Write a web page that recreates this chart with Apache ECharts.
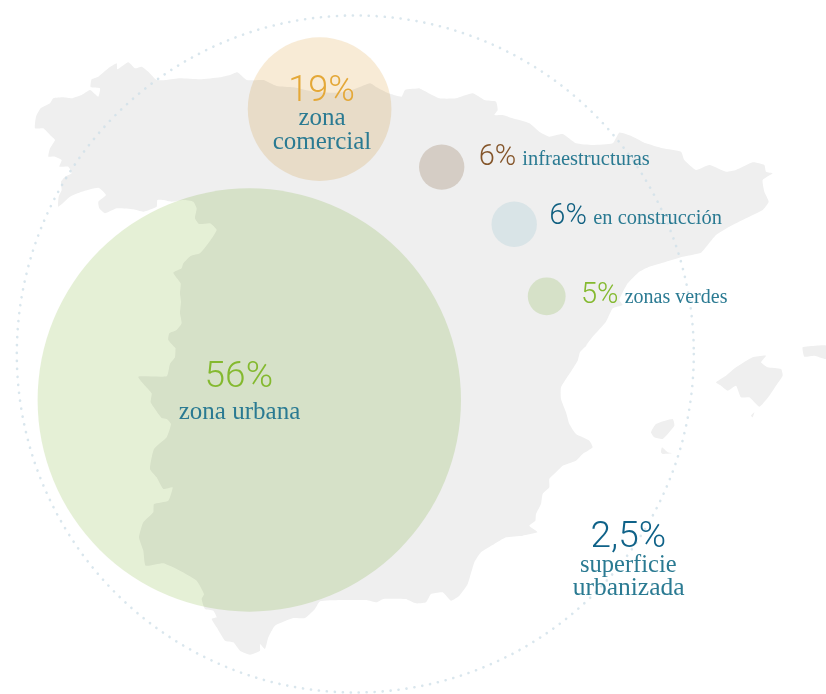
<!DOCTYPE html>
<html>
<head>
<meta charset="utf-8">
<style>html,body{margin:0;padding:0;background:#fff}#c{width:826px;height:694px}</style>
<script src="https://cdn.jsdelivr.net/npm/echarts@6/dist/echarts.min.js"></script>
</head>
<body>
<div id="c"></div>
<script>
// ---- values ----
const categories = ['zona urbana', 'zona comercial', 'infraestructuras', 'en construcción', 'zonas verdes'];
const shares = [56, 19, 6, 6, 5];
const totalLabel = 'superficie urbanizada';
const totalShare = 2.5;

// ---- layout (px on the 826x694 page scale) ----
const bubbleX = [249.3, 319.6, 441.7, 514.2, 546.7];
const bubbleY = [400, 109.1, 167.1, 224.2, 296.3];
const bubbleFill = ['#e5f0d6', '#f8ebd6', '#e4dbd3', '#e8f4f7', '#e5f0d6'];
const pctColor = ['#84b92f', '#e4a838', '#84552a', '#0f5f80', '#84b92f'];
const labelColor = '#2a7a92';
const ring = {x: 355.3, y: 354, d: 677};
const diameterPerPoint = 7.56;

// land outline, traced in 1/3 px
const northCoast = [[175,620],[176,590],[185,570],[183,545],[195,530],[215,520],[205,500],[178,500],[185,480],[165,470],[145,470],[150,445],[165,420],[150,405],[130,385],[105,385],[108,350],[122,325],[150,310],[160,295],[190,292],[215,295],[245,285],[270,270],[295,290],[300,265],[272,262],[275,238],[295,230],[325,205],[350,190],[352,208],[385,187],[405,205],[425,200],[445,215],[470,240],[500,240],[540,235],[600,238],[660,232],[690,225],[712,217],[740,240],[790,240],[830,258],[880,262],[940,275],[1000,278],[1040,275],[1070,265],[1110,250],[1130,262],[1165,280],[1205,290],[1215,270],[1260,265]];
const eastCoast = [[40,265],[60,275],[100,295],[150,295],[200,280],[235,300],[270,305],[275,330],[265,345],[290,345],[320,355],[370,370],[400,395],[430,410],[470,402],[510,430],[560,435],[620,430],[640,398],[680,410],[720,430],[770,445],[825,455],[835,480],[870,510],[910,495],[960,515],[990,510],[1040,487],[1075,495],[1080,515],[1100,520],[1070,540],[1075,575],[1088,605],[1070,630],[1020,655],[970,680],[930,705],[905,735],[885,758],[830,770],[780,785],[730,800],[700,815],[665,850],[640,900],[650,915],[620,925],[600,965],[560,1010],[530,1050]];
const levante = [[545,0],[522,25],[515,50],[490,90],[465,130],[465,165],[480,205],[490,240],[510,270],[550,290],[560,310],[530,330],[510,350],[470,365],[450,385],[430,405],[430,430],[410,450],[405,480],[390,510],[388,530],[370,545],[390,560],[395,565],[350,575],[300,580],[265,600],[225,625],[205,655],[185,720],[160,755],[135,770],[110,745],[75,750],[60,775],[30,778],[0,765]];
const southAndBorder = [[1218,765],[1150,765],[1130,775],[1100,768],[1060,768],[1020,768],[960,772],[945,795],[915,822],[880,822],[825,845],[805,880],[795,915],[780,900],[780,920],[750,932],[720,920],[700,895],[675,890],[650,850],[635,825],[650,820],[640,800],[615,795],[605,765],[612,750],[590,710],[540,680],[490,658],[437,665],[430,620],[417,580],[430,535],[460,505],[462,480],[505,470],[518,430],[490,435],[470,400],[450,375],[462,315],[500,280],[513,240],[500,225],[485,222],[465,195],[452,175],[455,148],[435,125],[415,98],[500,97],[510,60],[525,40],[527,0]];
const northBorder = [[528,1045],[505,1020],[508,1000],[530,990],[545,970],[540,940],[543,905],[540,880],[542,850],[520,818],[545,805],[550,790],[572,768],[600,760],[625,730],[650,690],[630,670],[597,672],[585,655],[590,625],[580,605],[550,600],[515,605],[490,600],[472,600],[470,620],[430,635],[400,628],[350,625],[315,640],[298,625],[295,605],[318,585],[295,563],[245,575],[210,590]];
const mallorca = [[930,115],[960,95],[990,70],[1040,40],[1080,35],[1065,55],[1085,70],[1125,75],[1130,95],[1110,125],[1090,155],[1060,188],[1030,160],[1005,160],[990,125],[965,140],[945,125]];
const menorca = [[1190,10],[1230,5],[1262,5],[1262,45],[1225,35],[1195,38]];
const cabrera = [[1035,215],[1045,205],[1040,220]];
const ibiza = [[735,265],[750,240],[800,225],[805,245],[770,285],[745,280]];
const formentera = [[768,310],[785,325],[798,328],[770,330],[765,325]];

const shift = (pts, ox, oy) => pts.map(p => [ox + p[0] / 3, oy + p[1] / 3]);
const landShapes = [
  [].concat(shift(northCoast, 0, 0), shift(eastCoast, 406, 0), shift(levante, 406, 344),
            shift(southAndBorder, 0, 344), shift(northBorder, 0, 0)),
  shift(mallorca, 406, 344), shift(menorca, 406, 344), shift(cabrera, 406, 344),
  shift(ibiza, 406, 344), shift(formentera, 406, 344)
];

const fmt = v => String(v).replace('.', ',') + '%';
const PCT = 'Roboto';
const LAB = '"Liberation Serif"';
// text: [x, baseline y, string, size, colour, align, family, weight]
const textRows = [
  [238.8, 386.7, fmt(shares[0]), 37, pctColor[0], 'center', PCT, 300],
  [239.5, 419.3, categories[0], 25, labelColor, 'center', LAB, 400],
  [321.5, 101, fmt(shares[1]), 36, pctColor[1], 'center', PCT, 300],
  [322, 125, categories[1].split(' ')[0], 25, labelColor, 'center', LAB, 400],
  [322, 149, categories[1].split(' ')[1], 25, labelColor, 'center', LAB, 400],
  [478.7, 164.3, fmt(shares[2]), 29, pctColor[2], 'left', PCT, 300],
  [522.3, 165, categories[2], 20.5, labelColor, 'left', LAB, 400],
  [549.3, 223.3, fmt(shares[3]), 29, pctColor[3], 'left', PCT, 300],
  [593.3, 224, categories[3], 20.4, labelColor, 'left', LAB, 400],
  [581, 302.7, fmt(shares[4]), 29, pctColor[4], 'left', PCT, 300],
  [624.7, 303, categories[4], 20, labelColor, 'left', LAB, 400],
  [628.3, 546.7, fmt(totalShare), 37, '#0f6288', 'center', PCT, 300],
  [628.3, 571.3, totalLabel.split(' ')[0], 24.5, labelColor, 'center', LAB, 400],
  [628.6, 594.7, totalLabel.split(' ')[1], 25.5, labelColor, 'center', LAB, 400]
];
const topOffset = {Roboto: 0.74, '"Liberation Serif"': 0.76};

const chart = echarts.init(document.getElementById('c'), null, {renderer: 'canvas'});
chart.setOption({
  animation: false,
  backgroundColor: '#ffffff',
  grid: {left: 0, right: 0, top: 0, bottom: 0},
  xAxis: {type: 'value', min: 0, max: 826, show: false},
  yAxis: {type: 'value', min: 0, max: 694, inverse: true, show: false},
  series: [
    {
      type: 'custom', silent: true, z: 1, coordinateSystem: 'cartesian2d',
      data: landShapes.map((_, i) => [i]),
      encode: {x: 0, y: 0},
      clip: false,
      renderItem: (params, api) => ({
        type: 'polygon',
        shape: {points: landShapes[api.value(0)].map(p => api.coord(p)), smooth: 0.15},
        style: {fill: '#efefef', stroke: null}
      })
    },
    {
      type: 'scatter', silent: true, z: 2,
      data: [[ring.x, ring.y]],
      symbol: 'circle', symbolSize: ring.d,
      itemStyle: {color: 'transparent', borderColor: '#cfe0e9', borderWidth: 2.6, borderType: [0.1, 7.9], borderCap: 'round'}
    },
    {
      type: 'scatter', silent: true, z: 3, blendMode: 'multiply',
      data: shares.map((v, i) => ({value: [bubbleX[i], bubbleY[i], v], itemStyle: {color: bubbleFill[i], opacity: 1}})),
      symbol: 'circle',
      symbolSize: d => d[2] * diameterPerPoint
    },
    {
      type: 'custom', silent: true, z: 4, coordinateSystem: 'cartesian2d',
      data: textRows.map((_, i) => [i]),
      encode: {x: 0, y: 0},
      clip: false,
      renderItem: (params, api) => {
        const r = textRows[api.value(0)];
        const c = api.coord([r[0], r[1] - topOffset[r[6]] * r[3]]);
        return {
          type: 'text',
          x: c[0], y: c[1],
          style: {
            text: r[2], fill: r[4], fontSize: r[3], fontFamily: r[6], fontWeight: r[7],
            textAlign: r[5], textVerticalAlign: 'top'
          }
        };
      }
    }
  ]
});
</script>
</body>
</html>
